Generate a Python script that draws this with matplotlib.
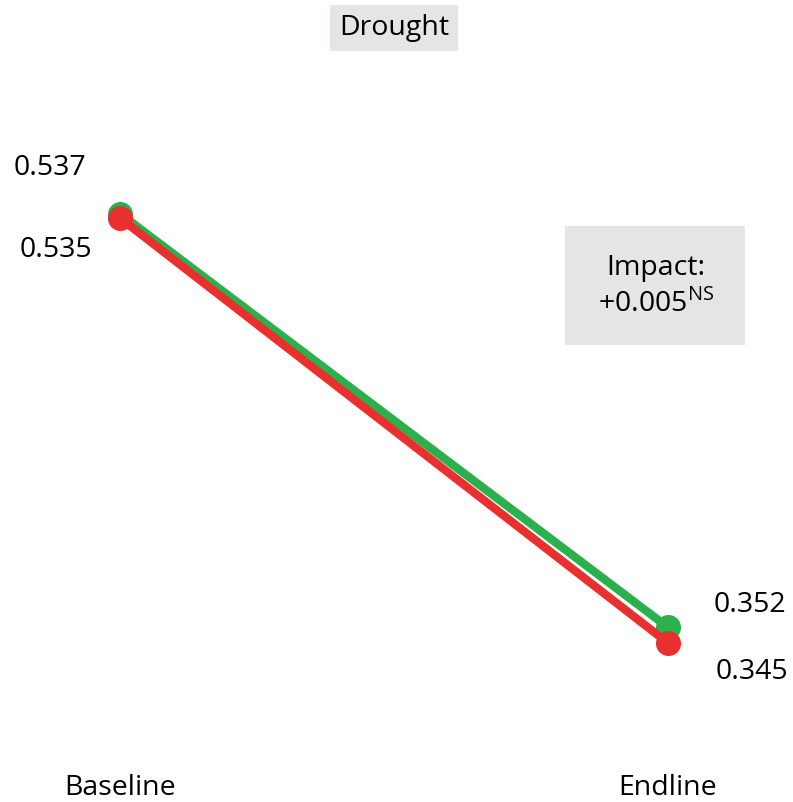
import matplotlib.pyplot as plt

plt.rcParams["font.family"] = ["Open Sans", "DejaVu Sans"]

# Survey rounds and group means
periods = ["Baseline", "Endline"]
green_vals = [0.537, 0.352]
red_vals = [0.535, 0.345]
impact_text = "+0.005"
impact_sig = "NS"
title = "Drought"

GREEN = "#2cb04b"
RED = "#e8302f"
BOX = "#e6e4e6"

W, H = 793, 802
fig = plt.figure(figsize=(W / 100, H / 100), dpi=100)
ax = fig.add_axes([0, 0, 1, 1])
ax.set_xlim(-0.219, 1.228)
ax.set_ylim(0.2739, 0.6325)
ax.axis("off")

x = [0, 1]
ax.plot(x, green_vals, color=GREEN, lw=6, marker="o", ms=17, solid_capstyle="round", zorder=2)
ax.plot(x, red_vals, color=RED, lw=6, marker="o", ms=17, solid_capstyle="round", zorder=3)

fs = 20.5


def value_label(xi, yi, dx, dy):
    ax.annotate(f"{yi:.3f}", (xi, yi), xytext=(dx, dy), textcoords="offset pixels",
                ha="center", va="center", fontsize=fs)


value_label(x[0], green_vals[0], -70, 46)
value_label(x[0], red_vals[0], -64, -32)
value_label(x[1], green_vals[1], 82, 22)
value_label(x[1], red_vals[1], 84, -29)

# period labels along the bottom
for xi, lab in zip(x, periods):
    ax.annotate(lab, (xi, 14), xycoords=("data", "figure pixels"),
                ha="center", va="center", fontsize=fs)

# title box
fig.text(394 / W, 1 - 28 / H, title, ha="center", va="center", fontsize=fs,
         bbox=dict(boxstyle="square,pad=0.3", fc=BOX, ec="none"))

# impact box
box = plt.Rectangle((565 / W, 1 - 345 / H), 180 / W, 119 / H,
                    transform=fig.transFigure, fc=BOX, ec="none", zorder=0)
fig.patches.append(box)
fig.text(656 / W, 1 - 268 / H, "Impact:", ha="center", va="center", fontsize=fs)
fig.text(656 / W, 1 - 304 / H, impact_text + r"$^{\mathregular{" + impact_sig + "}}$",
         ha="center", va="center", fontsize=fs)

fig.savefig("out.png", dpi=100)
